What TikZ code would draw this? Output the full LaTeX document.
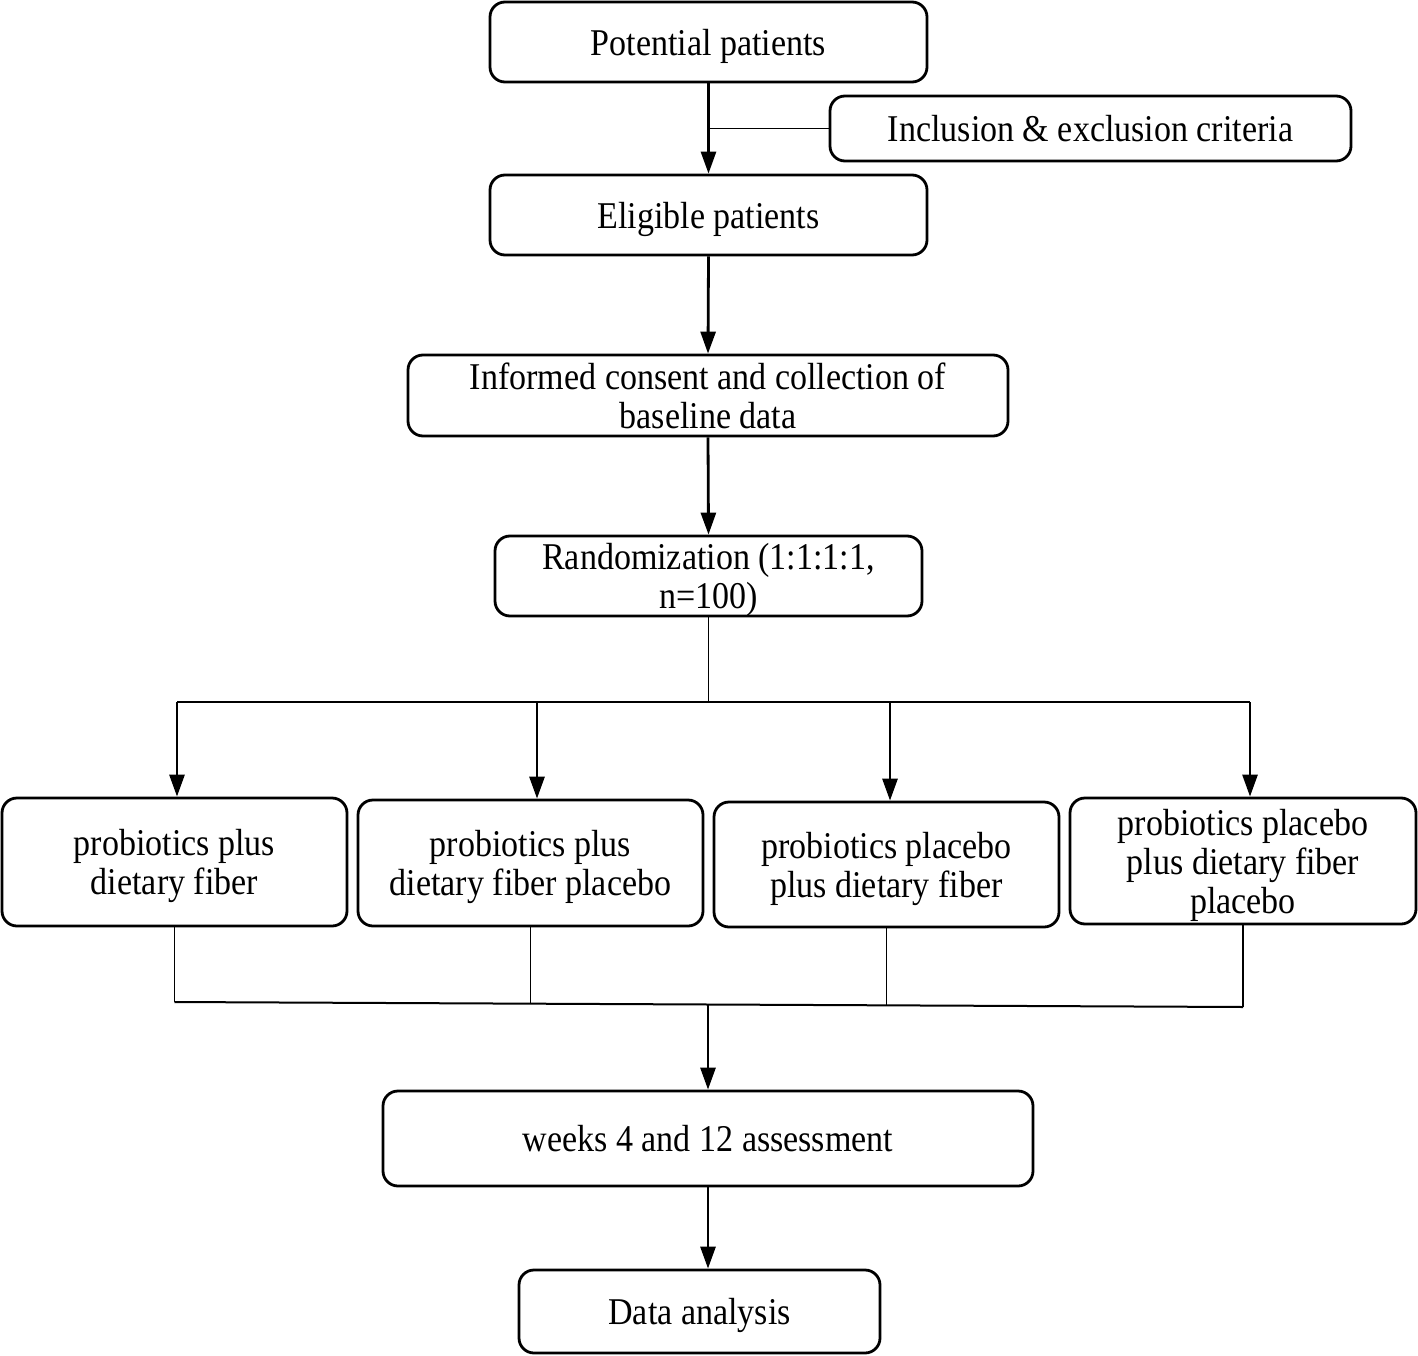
\documentclass[tikz,border=0pt]{standalone}
\usepackage{fontspec}
\setmainfont[FakeStretch=0.9]{Liberation Serif}
\usetikzlibrary{arrows.meta}
\begin{document}
\begin{tikzpicture}[x=1pt,y=-1pt,
  box/.style={draw,line width=2.8pt,rounded corners=15pt,inner sep=0pt,align=center,text depth=0pt,font=\fontsize{37.8}{39}\selectfont},
  arr/.style={line width=2.8pt,-{Triangle[length=22pt,width=15pt]}},
  thinline/.style={line width=1.3pt},
  midline/.style={line width=2.4pt}]
\useasboundingbox (0,0) rectangle (1418,1356);
\node[box,minimum width=437pt,minimum height=80pt] (pot) at (708.5,42) {Potential patients};
\node[box,minimum width=521pt,minimum height=65pt] (inc) at (1090.5,128.5) {Inclusion \& exclusion criteria};
\node[box,minimum width=437pt,minimum height=80pt] (eli) at (708.5,215) {Eligible patients};
\node[box,minimum width=600pt,minimum height=81pt] (inf) at (708,395.5) {Informed consent and collection of\\baseline data};
\node[box,minimum width=427pt,minimum height=80pt] (ran) at (708.5,576) {Randomization (1:1:1:1,\\n=100)};
\node[box,minimum width=345pt,minimum height=128pt] (g1) at (174.5,862) {probiotics plus\\dietary fiber};
\node[box,minimum width=345pt,minimum height=126pt] (g2) at (530.5,863) {probiotics plus\\dietary fiber placebo};
\node[box,minimum width=345pt,minimum height=125pt] (g3) at (886.5,864.5) {probiotics placebo\\plus dietary fiber};
\node[box,minimum width=346pt,minimum height=126pt] (g4) at (1243,861) {probiotics placebo\\plus dietary fiber\\placebo};
\node[box,minimum width=650pt,minimum height=95pt] (wk) at (708,1138.5) {weeks 4 and 12 assessment};
\node[box,minimum width=361pt,minimum height=83pt] (da) at (699.5,1311.5) {Data analysis};
% top chain
\draw[arr] (pot.south) -- (eli.north);
\draw[thinline] (inc.west) -- (inc.west -| pot.south);
\draw[arr] (eli.south) -- (inf.north);
\draw[arr] (inf.south) -- (ran.north);
% split
\coordinate (sp) at (708.5,702);
\coordinate (t1) at (177,702);
\coordinate (t2) at (537,702);
\coordinate (t3) at (890,702);
\coordinate (t4) at (1250,702);
\draw[thinline] (ran.south) -- (sp);
\draw[midline] (t1) -- (t4);
\draw[arr] (t1) -- (t1 |- g1.north);
\draw[arr] (t2) -- (t2 |- g2.north);
\draw[arr] (t3) -- (t3 |- g3.north);
\draw[arr] (t4) -- (t4 |- g4.north);
% merge
\coordinate (m1) at (174.5,1002);
\coordinate (m2) at (530.5,1003.7);
\coordinate (m3) at (886.5,1005.3);
\coordinate (m4) at (1243,1007);
\coordinate (mg) at (708,1004.5);
\draw[thinline] (g1.south) -- (m1);
\draw[thinline] (g2.south) -- (m2);
\draw[thinline] (g3.south) -- (m3);
\draw[thinline] (g4.south) -- (m4);
\draw[line width=2pt] (m1) -- (m4);
\draw[arr] (mg) -- (wk.north);
\draw[arr] (wk.south) -- (wk.south |- da.north);
\end{tikzpicture}
\end{document}
